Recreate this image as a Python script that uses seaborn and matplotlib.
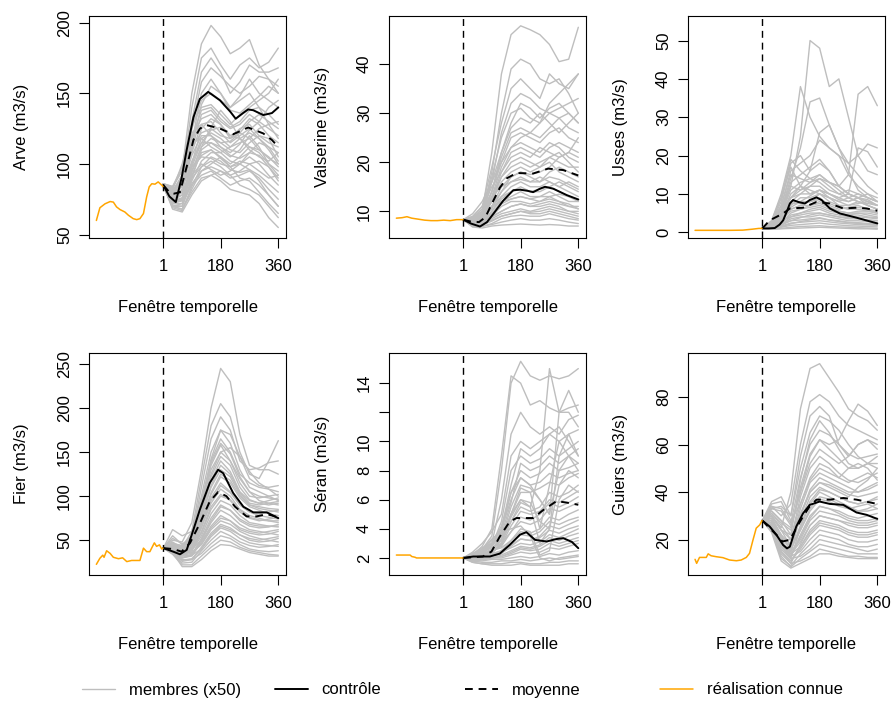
import matplotlib
matplotlib.use("Agg")
import numpy as np
import pandas as pd
import matplotlib.pyplot as plt
import seaborn as sns
from matplotlib.lines import Line2D

# forecast days at which the ensemble members are read
t_members = [1, 30, 60, 90, 120, 150, 180, 210, 240, 270, 300, 330, 360]

# ---------------- Arve ----------------
arve_obs_t = [-208, -197, -181, -165, -155, -145, -134, -119, -108, -93, -82, -72, -61, -51, -43, -35, -25, -15, -4, 0]
arve_obs = [60, 69, 71.8, 73.4, 73, 69.6, 67.7, 66, 63.7, 61.3, 60.6, 61.3, 64.9, 76.7, 83.8, 86, 85.7, 87.3, 85, 84]
arve_ctrl_t = [1, 20, 40, 58, 74, 95, 115, 141, 178, 210, 227, 250, 266, 282, 313, 340, 360]
arve_ctrl = [85, 77, 73, 90, 110, 133, 146, 151, 145, 137, 132, 136, 138.6, 138, 134.6, 136, 140]
arve_mean_t = [1, 20, 35, 53, 74, 95, 115, 136, 178, 219, 266, 313, 340, 360]
arve_mean = [85, 80, 79, 80, 98, 117, 125, 127.5, 125, 121, 125.8, 121.6, 117, 112]
arve_members = [
    [86, 84, 95, 150, 185, 198, 190, 178, 182, 188, 170, 160, 150],
    [85, 80, 90, 140, 175, 182, 170, 160, 170, 175, 168, 172, 182],
    [86, 82, 88, 130, 165, 175, 165, 150, 158, 170, 165, 165, 168],
    [84, 78, 85, 125, 158, 168, 162, 155, 150, 155, 162, 160, 155],
    [85, 76, 80, 115, 150, 160, 150, 140, 148, 160, 150, 145, 140],
    [85, 80, 92, 125, 145, 150, 145, 140, 145, 150, 140, 128, 118],
    [86, 82, 100, 128, 140, 142, 135, 128, 135, 140, 145, 150, 160],
    [85, 75, 82, 110, 135, 138, 130, 125, 128, 135, 130, 125, 120],
    [84, 72, 75, 100, 125, 132, 128, 118, 122, 130, 135, 130, 125],
    [85, 78, 85, 108, 128, 130, 122, 115, 120, 125, 118, 110, 100],
    [86, 80, 90, 112, 122, 125, 120, 118, 125, 128, 120, 115, 112],
    [85, 74, 78, 100, 118, 122, 118, 112, 115, 118, 125, 128, 130],
    [84, 70, 72, 95, 112, 118, 115, 110, 108, 115, 120, 118, 105],
    [85, 76, 82, 102, 115, 115, 110, 105, 110, 120, 112, 100, 95],
    [86, 84, 98, 115, 118, 112, 108, 112, 118, 110, 105, 102, 108],
    [85, 72, 74, 92, 108, 110, 105, 100, 105, 112, 110, 105, 98],
    [84, 70, 70, 88, 102, 108, 108, 102, 100, 105, 100, 92, 85],
    [85, 78, 85, 98, 105, 104, 100, 98, 102, 100, 95, 90, 92],
    [86, 74, 76, 90, 98, 102, 98, 92, 95, 100, 102, 98, 88],
    [85, 70, 68, 82, 95, 98, 95, 90, 92, 95, 90, 82, 75],
    [84, 72, 72, 85, 92, 95, 90, 85, 88, 90, 85, 78, 70],
    [85, 68, 66, 78, 88, 92, 95, 92, 85, 82, 78, 70, 62],
    [86, 74, 75, 86, 95, 100, 105, 98, 90, 88, 80, 72, 65],
    [85, 70, 68, 80, 90, 92, 88, 82, 80, 78, 72, 62, 55],
    [84, 76, 78, 92, 100, 96, 92, 95, 100, 96, 88, 78, 70],
    [85, 79, 88, 118, 138, 140, 132, 126, 130, 138, 140, 135, 128],
    [86, 81, 92, 120, 132, 135, 128, 120, 124, 132, 128, 120, 115],
    [84, 73, 76, 98, 115, 124, 126, 120, 118, 122, 118, 112, 108],
    [85, 77, 84, 106, 120, 120, 112, 108, 114, 124, 130, 140, 145],
    [86, 83, 96, 122, 128, 120, 115, 116, 122, 118, 110, 104, 100],
    [85, 71, 70, 90, 110, 115, 112, 106, 104, 108, 106, 98, 90],
    [84, 75, 80, 96, 106, 110, 104, 98, 100, 108, 115, 112, 102],
    [85, 69, 67, 84, 98, 105, 102, 96, 94, 96, 92, 86, 80],
    [86, 79, 87, 112, 142, 155, 150, 138, 136, 142, 148, 155, 150],
    [85, 73, 74, 94, 112, 126, 138, 130, 118, 112, 108, 100, 92],
]

# ---------------- Valserine ----------------
vals_obs_t = [-208, -190, -175, -160, -140, -120, -100, -80, -60, -40, -20, 0]
vals_obs = [8.6, 8.7, 8.9, 8.6, 8.4, 8.2, 8.1, 8.1, 8.2, 8.1, 8.3, 8.3]
vals_ctrl_t = [1, 25, 53, 75, 95, 126, 157, 178, 200, 219, 240, 256, 282, 324, 360]
vals_ctrl = [8.3, 7.5, 6.9, 7.8, 9.5, 12.2, 14.3, 14.4, 14.2, 13.9, 14.6, 15.0, 14.6, 13.3, 12.4]
vals_mean_t = [1, 25, 50, 70, 95, 115, 136, 167, 219, 266, 313, 360]
vals_mean = [8.3, 7.9, 7.8, 8.8, 12.2, 14.8, 16.7, 17.8, 17.7, 18.7, 18.4, 17.3]
vals_members = [
    [8.3, 8.5, 10, 22, 38, 46, 47.8, 47, 46, 44, 40.5, 41, 47.5],
    [8.3, 8.0, 9.5, 18, 30, 39, 41, 40, 37, 36, 37, 34, 30],
    [8.3, 9.0, 11, 19, 28, 35, 37, 35, 33, 38, 36, 35, 38],
    [8.3, 7.5, 9, 16, 26, 32, 34, 33, 31, 30, 31, 32, 33],
    [8.3, 8.2, 10, 17, 25, 30, 31, 29, 28, 30, 29, 27, 26],
    [8.3, 8.8, 11, 16, 22, 27, 29, 28, 30, 28, 26, 28, 30],
    [8.3, 7.8, 9, 14, 20, 25, 26, 25, 24, 26, 27, 25, 24],
    [8.3, 7.2, 8.2, 13, 19, 23, 24, 23, 22, 24, 23, 21, 20],
    [8.3, 8.6, 10.5, 15, 18, 21, 22, 21, 23, 22, 21, 22, 25],
    [8.3, 7.5, 8.5, 12, 17, 20, 21, 20, 19, 21, 22, 20, 18],
    [8.3, 8.0, 9, 12, 16, 18, 19, 18, 19, 20, 18, 17, 16],
    [8.3, 7.0, 7.8, 11, 14, 17, 18, 17, 16, 18, 19, 18, 17],
    [8.3, 8.4, 10, 13, 15, 16, 17, 16, 17, 16, 15, 16, 15],
    [8.3, 7.3, 8, 10, 13, 15, 16, 15, 15, 16, 15, 14, 13],
    [8.3, 7.9, 8.8, 11, 13, 14, 15, 14, 14, 15, 16, 15, 14],
    [8.3, 7.1, 7.6, 9.5, 12, 13, 14, 13, 13, 14, 13, 12, 12],
    [8.3, 8.2, 9.5, 11, 12, 12.5, 13, 12.5, 13, 13, 12, 11, 11],
    [8.3, 7.4, 7.8, 9, 11, 12, 12, 11.5, 12, 12.5, 12, 11.5, 10.5],
    [8.3, 7.6, 8.2, 9, 10, 11, 11.5, 11, 11, 11.5, 11, 10, 10],
    [8.3, 7.0, 7.2, 8.5, 9.5, 10, 10.5, 10, 10.5, 11, 10.5, 10, 9.5],
    [8.3, 7.3, 7.5, 8.2, 9, 9.5, 10, 9.5, 9.5, 10, 9.5, 9, 8.5],
    [8.3, 6.9, 6.9, 7.5, 8.5, 9, 9.2, 9, 9, 9.5, 9, 8.5, 8.2],
    [8.3, 7.2, 7.0, 7.3, 7.8, 8.2, 8.5, 8.2, 8.2, 8.5, 8.2, 7.8, 7.5],
    [8.3, 6.8, 6.6, 7.0, 7.2, 7.3, 7.4, 7.3, 7.2, 7.3, 7.2, 7.0, 7.0],
    [8.3, 9.5, 12, 16, 20, 23, 25, 26, 28, 32, 34, 36, 38],
    [8.3, 7.7, 8.6, 12.5, 18, 22, 23, 22, 21, 23, 24, 23, 22],
    [8.3, 8.1, 9.2, 13, 17, 19, 20, 19, 20, 21, 20, 19, 19],
    [8.3, 7.4, 8.1, 11, 15, 17, 18, 17.5, 18, 19, 21, 22, 21],
    [8.3, 7.9, 8.7, 10.5, 14, 16, 16.5, 16, 16, 17, 16.5, 15.5, 14.5],
    [8.3, 7.1, 7.6, 10, 12.5, 14, 14.5, 14, 14.5, 15, 14, 13, 12.5],
    [8.3, 7.5, 8.0, 9.5, 11.5, 12.5, 13, 12.5, 12, 13, 13.5, 13, 12],
    [8.3, 7.2, 7.4, 8.8, 10, 11, 11.5, 11, 11.5, 12, 11.5, 11, 10.5],
    [8.3, 8.6, 10, 14, 21, 26, 27, 26, 25, 27, 29, 30, 28],
    [8.3, 7.0, 7.2, 8, 9, 9.5, 10, 9.8, 10, 10.5, 10, 9.5, 9],
    [8.3, 8.3, 9.5, 14, 22, 28, 32, 31, 29, 31, 32, 30, 28],
]

# ---------------- Usses ----------------
usses_obs_t = [-209, -150, -100, -60, -30, -10, 0]
usses_obs = [0.5, 0.5, 0.5, 0.55, 0.8, 1.0, 1.0]
usses_ctrl_t = [1, 20, 40, 55, 66, 78, 87, 97, 113, 134, 149, 170, 186, 212, 243, 295, 360]
usses_ctrl = [1, 1, 1.1, 2, 3.1, 5.5, 7.5, 8.4, 7.9, 7.5, 8.4, 9.1, 8.4, 6.2, 4.9, 3.8, 2.3]
usses_mean_t = [1, 24, 66, 87, 128, 170, 212, 254, 295, 327, 360]
usses_mean = [1, 3.1, 4.9, 6.2, 6.4, 7.9, 7.5, 6.2, 6.4, 6.2, 5.6]
usses_members = [
    [1, 2, 5, 12, 25, 50, 48, 38, 40, 30, 20, 16, 15],
    [1, 3, 10, 20, 38, 30, 25, 22, 20, 18, 20, 23, 22],
    [1, 2, 6, 14, 22, 34, 35, 28, 22, 18, 15, 12, 10],
    [1, 1.5, 4, 8, 10, 12, 14, 13, 12, 15, 36, 38, 33],
    [1, 2.5, 8, 18, 20, 16, 18, 16, 12, 10, 22, 21, 17],
    [1, 2, 7, 16, 18, 20, 24, 22, 20, 15, 12, 10, 8],
    [1, 3, 9, 19, 16, 14, 15, 13, 12, 10, 9, 8, 7],
    [1, 2, 6, 13, 15, 17, 19, 16, 12, 10, 9, 8, 7],
    [1, 1.5, 5, 11, 13, 14, 13, 11, 10, 11, 10, 9, 8],
    [1, 2, 6, 12, 11, 12, 12, 10, 9, 10, 9, 7, 6],
    [1, 1.8, 4.5, 10, 12, 11, 10, 9, 8, 9, 10, 9, 8],
    [1, 2.2, 6, 9, 10, 10, 11, 9, 7, 7, 8, 7, 6],
    [1, 1.5, 3.5, 7, 9, 9, 10, 8, 7, 6, 6, 5.5, 5],
    [1, 2, 5, 8, 8, 8, 9, 7, 6, 6.5, 7, 6, 5],
    [1, 1.3, 3, 6, 7, 7, 8, 6.5, 5.5, 5, 5, 4.5, 4],
    [1, 1.5, 3.5, 5.5, 6, 6.5, 7, 6, 5, 4.5, 5, 5, 4.5],
    [1, 1.2, 2.5, 4.5, 5, 5.5, 6, 5, 4.5, 4, 4, 3.8, 3.5],
    [1, 1.4, 3, 4, 4.5, 5, 5, 4.5, 4, 3.5, 3.5, 3.2, 3],
    [1, 1.1, 2, 3.5, 4, 4, 4.5, 4, 3.5, 3, 3, 2.8, 2.5],
    [1, 1.2, 2.2, 3, 3.2, 3.5, 3.8, 3.2, 3, 2.6, 2.5, 2.3, 2.2],
    [1, 1.0, 1.6, 2.4, 2.6, 2.8, 3, 2.7, 2.4, 2.2, 2, 1.9, 1.8],
    [1, 0.9, 1.3, 1.8, 2, 2.2, 2.4, 2.1, 1.9, 1.7, 1.6, 1.5, 1.4],
    [1, 0.8, 1.0, 1.3, 1.5, 1.6, 1.7, 1.5, 1.4, 1.3, 1.2, 1.1, 1.0],
    [1, 0.8, 0.9, 1.0, 1.1, 1.2, 1.3, 1.2, 1.1, 1.0, 0.9, 0.9, 0.8],
    [1, 2, 5, 9, 12, 16, 26, 28, 22, 16, 11, 9, 8],
    [1, 2.5, 7, 15, 14, 13, 14, 12, 10, 9, 8, 7.5, 7],
    [1, 1.6, 4, 9, 11, 13, 15, 13, 11, 9, 8, 7, 6],
    [1, 1.3, 3, 6.5, 8, 9.5, 11, 10, 8.5, 8, 9, 8.5, 7],
    [1, 1.8, 4.5, 7.5, 7.5, 8, 8.5, 7.5, 6.5, 6, 6.5, 6, 5.5],
    [1, 1.2, 2.5, 5, 6, 7, 7.5, 6.5, 5.5, 5, 5.5, 5.5, 5],
    [1, 1.1, 2, 4, 5, 6, 6.5, 5.5, 5, 4.5, 4.5, 4, 3.8],
    [1, 1.0, 1.8, 3, 3.8, 4.5, 5, 4.5, 4, 3.8, 3.5, 3.2, 3],
    [1, 1.5, 3.5, 6, 7, 8, 10, 9, 8, 7, 7.5, 8, 7],
    [1, 0.9, 1.4, 2.2, 2.8, 3.2, 3.6, 3.2, 2.8, 2.5, 2.3, 2.1, 2],
    [1, 2.8, 9, 17, 12, 10, 11, 10, 9, 8, 9, 10, 9],
]

# ---------------- Fier ----------------
fier_obs_t = [-208, -197, -188, -184, -176, -165, -155, -139, -126, -113, -98, -72, -61, -51, -41, -27, -20, -11, -4, 0]
fier_obs = [22.6, 29.5, 33, 30.6, 38, 35, 30.6, 29, 30, 25.7, 27, 27, 41, 37, 37, 47, 43, 44.7, 40, 41]
fier_ctrl_t = [1, 32, 53, 74, 95, 115, 146, 172, 188, 219, 251, 282, 324, 360]
fier_ctrl = [41, 37, 34, 39, 62, 84.6, 115, 130, 126, 103.6, 88, 81.6, 81.6, 75]
fier_mean_t = [1, 32, 58, 84, 115, 146, 172, 198, 225, 261, 292, 324, 360]
fier_mean = [41, 40, 37, 46.6, 69, 94, 104.7, 100, 88, 77, 77, 79.6, 76]
fier_members = [
    [41, 50, 48, 70, 130, 200, 245, 230, 170, 135, 130, 130, 125],
    [41, 45, 42, 60, 120, 180, 205, 190, 150, 125, 120, 140, 163],
    [41, 55, 45, 55, 110, 165, 190, 175, 140, 130, 132, 138, 140],
    [41, 62, 55, 60, 100, 150, 175, 160, 130, 110, 105, 100, 95],
    [41, 48, 40, 55, 95, 140, 165, 150, 125, 115, 110, 108, 105],
    [41, 44, 38, 50, 90, 135, 158, 140, 115, 100, 98, 100, 102],
    [41, 46, 42, 50, 85, 125, 150, 140, 120, 105, 95, 92, 90],
    [41, 40, 35, 45, 80, 118, 140, 128, 105, 95, 92, 95, 98],
    [41, 52, 46, 50, 78, 110, 130, 122, 102, 90, 88, 86, 85],
    [41, 43, 38, 42, 70, 102, 122, 115, 98, 88, 84, 80, 78],
    [41, 38, 32, 40, 68, 98, 115, 105, 90, 82, 80, 82, 84],
    [41, 45, 40, 45, 65, 92, 108, 100, 85, 78, 75, 72, 70],
    [41, 40, 34, 38, 60, 88, 102, 95, 82, 75, 72, 74, 76],
    [41, 42, 36, 38, 55, 80, 95, 90, 78, 70, 68, 66, 65],
    [41, 37, 30, 34, 52, 75, 90, 84, 72, 66, 64, 65, 68],
    [41, 44, 38, 40, 50, 70, 84, 78, 68, 62, 60, 58, 56],
    [41, 39, 30, 32, 48, 66, 78, 72, 62, 58, 56, 57, 60],
    [41, 42, 35, 36, 45, 62, 72, 68, 60, 55, 52, 50, 48],
    [41, 36, 26, 28, 42, 58, 68, 64, 56, 50, 48, 49, 52],
    [41, 40, 32, 33, 40, 54, 64, 60, 52, 47, 45, 44, 43],
    [41, 35, 24, 25, 38, 50, 60, 55, 48, 44, 42, 43, 45],
    [41, 38, 28, 28, 35, 46, 55, 52, 45, 40, 38, 37, 38],
    [41, 34, 22, 22, 32, 42, 50, 48, 42, 38, 36, 34, 33],
    [41, 36, 20, 20, 28, 38, 45, 44, 40, 36, 34, 32, 32],
    [41, 46, 44, 52, 90, 130, 150, 155, 145, 128, 115, 108, 100],
    [41, 47, 43, 52, 92, 138, 160, 148, 122, 105, 100, 98, 96],
    [41, 43, 37, 46, 82, 122, 145, 135, 110, 96, 92, 90, 92],
    [41, 41, 35, 42, 75, 112, 135, 125, 104, 92, 90, 92, 94],
    [41, 45, 39, 44, 72, 104, 125, 118, 100, 90, 86, 84, 82],
    [41, 39, 33, 38, 64, 95, 112, 104, 90, 82, 78, 76, 74],
    [41, 42, 36, 40, 58, 85, 100, 96, 84, 76, 73, 72, 72],
    [41, 38, 30, 33, 50, 72, 88, 84, 74, 68, 66, 66, 66],
    [41, 40, 33, 35, 46, 64, 75, 72, 64, 60, 58, 60, 62],
    [41, 36, 27, 29, 40, 56, 66, 62, 56, 52, 50, 52, 54],
    [41, 44, 40, 48, 88, 142, 175, 170, 145, 120, 112, 110, 112],
]

# ---------------- Séran ----------------
seran_obs_t = [-208, -165, -160, -150, -145, 0]
seran_obs = [2.2, 2.2, 2.1, 2.05, 2.0, 2.0]
seran_ctrl_t = [1, 32, 84, 115, 146, 178, 198, 225, 261, 292, 313, 340, 360]
seran_ctrl = [2.0, 2.1, 2.1, 2.3, 2.9, 3.6, 3.77, 3.24, 3.13, 3.3, 3.36, 3.1, 2.67]
seran_mean_t = [1, 62, 89, 115, 146, 167, 219, 251, 292, 324, 360]
seran_mean = [2.0, 2.1, 2.44, 3.47, 4.5, 4.74, 4.74, 5.3, 5.9, 5.8, 5.65]
seran_members = [
    [2, 2.3, 2.6, 3.5, 8, 14, 15.5, 14.5, 14.2, 14.5, 14.3, 14.5, 15],
    [2, 2.2, 2.8, 4, 9, 14.5, 14, 12.5, 12.8, 12.3, 12, 12.3, 12.5],
    [2, 2.1, 2.4, 3, 6, 10.5, 12, 11, 10.5, 11, 10.5, 11.5, 11.8],
    [2, 1.9, 2.2, 2.6, 3.5, 5, 6, 5.5, 8, 15, 12, 12, 11],
    [2, 2.4, 3, 3.8, 5, 9, 10, 9.5, 10, 10.5, 10, 10.5, 10.8],
    [2, 2.0, 2.3, 2.8, 4.5, 8, 9, 8.5, 8.8, 9.5, 9, 9.5, 10],
    [2, 2.2, 2.5, 3.2, 4, 6, 7.5, 7, 6, 5, 12, 13.5, 12],
    [2, 1.9, 2.0, 2.3, 3, 5, 6.5, 6.5, 4, 7, 10, 9, 8],
    [2, 2.1, 2.4, 2.8, 3.8, 6.5, 8, 7.5, 7.8, 8.5, 8, 8.2, 8.5],
    [2, 2.0, 2.2, 2.6, 3.2, 5, 6.8, 6.5, 6.8, 7.2, 7, 7.5, 7.8],
    [2, 1.9, 2.1, 2.4, 3.0, 4.5, 5.8, 5.5, 3, 4, 9, 10.5, 9],
    [2, 2.3, 2.7, 3, 3.5, 4.5, 5.5, 5.2, 5.5, 6.5, 6.2, 6.5, 7],
    [2, 2.0, 2.2, 2.5, 2.8, 3.8, 4.8, 4.6, 5, 5.8, 5.5, 5.8, 6.2],
    [2, 1.9, 2.0, 2.2, 2.5, 3.2, 4, 3.8, 2.2, 2.5, 6, 7, 6.5],
    [2, 2.1, 2.3, 2.5, 2.7, 3.2, 3.8, 3.7, 4, 4.8, 4.6, 5, 5.3],
    [2, 1.9, 2.0, 2.1, 2.3, 2.8, 3.3, 3.2, 3.5, 4.2, 4, 4.3, 4.6],
    [2, 2.0, 2.1, 2.2, 2.4, 2.7, 3, 2.9, 3.1, 3.6, 3.4, 3.7, 4],
    [2, 1.8, 1.9, 2.0, 2.1, 2.4, 2.7, 2.6, 2.8, 3.2, 3, 3.2, 3.4],
    [2, 1.9, 1.9, 2.0, 2.0, 2.2, 2.4, 2.3, 2.4, 2.7, 2.6, 2.8, 3.0],
    [2, 1.8, 1.8, 1.9, 1.9, 2.0, 2.1, 2.0, 2.1, 2.3, 2.2, 2.4, 2.5],
    [2, 1.8, 1.7, 1.7, 1.8, 1.8, 1.9, 1.8, 1.9, 2.0, 1.9, 2.0, 2.1],
    [2, 1.7, 1.6, 1.6, 1.6, 1.7, 1.7, 1.6, 1.6, 1.7, 1.7, 1.8, 1.8],
    [2, 1.7, 1.6, 1.5, 1.5, 1.5, 1.6, 1.5, 1.5, 1.5, 1.5, 1.6, 1.6],
    [2, 2.2, 2.6, 3.3, 3.8, 4, 4.2, 3.5, 2, 1.8, 2, 2.1, 2.2],
    [2, 2.0, 2.3, 2.9, 4, 7, 9.5, 9, 9.5, 10.5, 11, 10, 9],
    [2, 2.1, 2.5, 3, 4.2, 6.5, 7.5, 7, 7.2, 7.8, 7.5, 7.8, 8],
    [2, 2.0, 2.2, 2.6, 3.3, 5.5, 7, 6.8, 6, 5, 8, 9, 8.5],
    [2, 1.9, 2.1, 2.4, 2.9, 4.2, 5.2, 5, 5.2, 6, 5.8, 6.2, 6.6],
    [2, 2.2, 2.4, 2.7, 3, 3.8, 4.5, 4.3, 4.6, 5.4, 5.2, 5.5, 5.8],
    [2, 1.9, 2.0, 2.2, 2.4, 3, 3.6, 3.5, 3.8, 4.5, 4.3, 4.6, 4.8],
    [2, 2.0, 2.1, 2.3, 2.5, 2.9, 3.3, 3.2, 3.4, 3.9, 3.7, 4, 4.2],
    [2, 1.8, 1.9, 2.0, 2.2, 2.5, 2.8, 2.7, 2.9, 3.4, 3.2, 3.5, 3.7],
    [2, 2.1, 2.3, 2.8, 3.6, 5.8, 8.5, 8, 8.3, 9, 8.5, 9, 9.5],
    [2, 1.9, 1.9, 2.0, 2.1, 2.3, 2.6, 2.5, 2.6, 3, 2.8, 3, 3.2],
    [2, 2.0, 2.2, 2.5, 3.2, 4.8, 6, 5.8, 4.5, 4, 7, 8, 7.5],
]

# ---------------- Guiers ----------------
guiers_obs_t = [-209, -204, -195, -185, -174, -168, -159, -143, -122, -101, -80, -65, -49, -39, -28, -18, -7, 0]
guiers_obs = [11.7, 10, 12.5, 12.5, 12.5, 14, 13.2, 12.8, 12.4, 11.4, 11.1, 11.4, 12.5, 14.2, 19.9, 24.8, 26.2, 28]
guiers_ctrl_t = [1, 24, 45, 66, 78, 87, 107, 128, 149, 180, 212, 254, 295, 327, 360]
guiers_ctrl = [28, 25.5, 22, 17.7, 16.3, 17, 25.5, 31, 34.6, 36, 35, 34.6, 31.4, 30.4, 28.7]
guiers_mean_t = [1, 24, 45, 64, 87, 107, 128, 149, 170, 212, 254, 295, 360]
guiers_mean = [28, 24.8, 22, 19.2, 19.9, 24.8, 29.7, 34, 36.8, 36.8, 37.5, 36.8, 35]
guiers_members = [
    [28, 30, 25, 40, 75, 92, 94, 88, 82, 75, 72, 70, 66],
    [28, 34, 30, 35, 60, 78, 81, 78, 72, 68, 66, 64, 62],
    [28, 36, 38, 30, 55, 72, 76, 72, 60, 55, 60, 62, 58],
    [28, 32, 28, 25, 40, 55, 62, 60, 62, 70, 77, 74, 68],
    [28, 30, 24, 22, 45, 62, 70, 65, 58, 52, 50, 52, 55],
    [28, 33, 32, 26, 40, 52, 58, 55, 52, 55, 60, 62, 60],
    [28, 28, 20, 20, 38, 50, 55, 52, 48, 45, 44, 46, 48],
    [28, 35, 36, 28, 35, 45, 50, 48, 46, 50, 52, 50, 45],
    [28, 29, 22, 18, 33, 44, 48, 46, 44, 42, 40, 41, 43],
    [28, 27, 18, 15, 30, 40, 44, 42, 40, 38, 42, 45, 50],
    [28, 31, 26, 20, 28, 38, 42, 40, 38, 36, 35, 36, 38],
    [28, 26, 16, 12, 25, 35, 40, 38, 36, 34, 32, 33, 35],
    [28, 30, 24, 17, 24, 32, 37, 36, 34, 33, 34, 35, 33],
    [28, 27, 19, 13, 22, 30, 34, 33, 32, 30, 29, 30, 31],
    [28, 29, 22, 15, 20, 28, 32, 31, 30, 28, 27, 27, 28],
    [28, 25, 14, 10, 18, 26, 30, 29, 28, 26, 25, 25, 26],
    [28, 28, 20, 14, 17, 24, 28, 27, 26, 24, 23, 23, 24],
    [28, 26, 15, 11, 16, 22, 26, 25, 24, 22, 21, 21, 22],
    [28, 27, 18, 13, 15, 20, 24, 23, 22, 20, 19, 19, 20],
    [28, 24, 12, 9, 14, 18, 22, 21, 20, 18, 17, 17, 18],
    [28, 26, 17, 12, 13, 16, 20, 19, 18, 17, 16, 15, 16],
    [28, 24, 13, 8.5, 12, 15, 18, 17, 16, 15, 14, 14, 14],
    [28, 25, 15, 10, 11, 13, 16, 15, 14, 13, 13, 12.5, 12.5],
    [28, 23, 11, 8, 10, 12, 14, 14, 13, 12.5, 12, 12, 12],
    [28, 33, 34, 30, 50, 65, 72, 70, 66, 60, 55, 52, 50],
    [28, 31, 27, 24, 42, 56, 62, 58, 54, 50, 50, 52, 52],
    [28, 30, 24, 20, 35, 46, 52, 50, 46, 44, 46, 48, 46],
    [28, 28, 21, 17, 30, 41, 46, 44, 42, 40, 40, 42, 44],
    [28, 32, 28, 22, 31, 40, 44, 43, 41, 39, 38, 39, 40],
    [28, 27, 19, 15, 26, 36, 41, 40, 38, 36, 35, 36, 37],
    [28, 29, 21, 16, 24, 33, 38, 37, 35, 33, 32, 32, 33],
    [28, 26, 17, 13, 21, 29, 34, 33, 31, 29, 28, 28, 29],
    [28, 28, 19, 14, 19, 26, 30, 29, 28, 27, 26, 26, 27],
    [28, 25, 15, 11, 17, 23, 27, 26, 25, 23, 22, 22, 23],
    [28, 34, 33, 27, 46, 60, 66, 64, 60, 56, 54, 55, 56],
]

panels = [
    ("Arve (m3/s)", arve_obs_t, arve_obs, arve_ctrl_t, arve_ctrl, arve_mean_t, arve_mean, arve_members,
     [50, 100, 150, 200], None, (47.6, 204.7)),
    ("Valserine (m3/s)", vals_obs_t, vals_obs, vals_ctrl_t, vals_ctrl, vals_mean_t, vals_mean, vals_members,
     [10, 20, 30, 40], None, (4.56, 49.8)),
    ("Usses (m3/s)", usses_obs_t, usses_obs, usses_ctrl_t, usses_ctrl, usses_mean_t, usses_mean, usses_members,
     [0, 10, 20, 30, 40, 50], None, (-1.5, 56.4)),
    ("Fier (m3/s)", fier_obs_t, fier_obs, fier_ctrl_t, fier_ctrl, fier_mean_t, fier_mean, fier_members,
     [50, 100, 150, 200, 250], None, (10.5, 262.5)),
    ("Séran (m3/s)", seran_obs_t, seran_obs, seran_ctrl_t, seran_ctrl, seran_mean_t, seran_mean, seran_members,
     [2, 4, 6, 8, 10, 12, 14], ["2", "4", "6", "8", "10", "", "14"], (0.83, 16.07)),
    ("Guiers (m3/s)", guiers_obs_t, guiers_obs, guiers_ctrl_t, guiers_ctrl, guiers_mean_t, guiers_mean, guiers_members,
     [20, 40, 60, 80], None, (5.1, 98.5)),
]

GREY = "#bebebe"
ORANGE = "#ffa500"
DASH = (0, (4, 3))

sns.set_style("ticks")
plt.rcParams["font.family"] = ["Liberation Sans", "DejaVu Sans"]
plt.rcParams["font.size"] = 12
for k in ["text.color", "axes.labelcolor", "xtick.color", "ytick.color", "axes.edgecolor"]:
    plt.rcParams[k] = "black"

W, H = 893, 702
fig = plt.figure(figsize=(W / 100, H / 100), dpi=100)

lefts = [89, 389, 688]
tops = [16, 353]
bw, bh = 197, 222

for i, (ylab, obs_t, obs, ctrl_t, ctrl, mean_t, mean, members, yt, ytl, ylim) in enumerate(panels):
    r, c = divmod(i, 3)
    ax = fig.add_axes([lefts[c] / W, 1 - (tops[r] + bh) / H, bw / W, bh / H])

    df = pd.DataFrame(members, columns=t_members).rename_axis("member").reset_index()
    df = df.melt(id_vars="member", var_name="t", value_name="q")
    df["t"] = df["t"].astype(float)
    sns.lineplot(data=df, x="t", y="q", units="member", estimator=None,
                 color=GREY, lw=1.0, ax=ax)
    sns.lineplot(x=ctrl_t, y=ctrl, color="black", lw=1.4, ax=ax)
    sns.lineplot(x=mean_t, y=mean, color="black", lw=1.4, linestyle=DASH, ax=ax)
    ax.axvline(1, color="black", lw=1.0, linestyle=(0, (5, 3.5)))
    sns.lineplot(x=obs_t, y=obs, color=ORANGE, lw=1.1, ax=ax)

    ax.set_xlim(-231, 384)
    ax.set_ylim(*ylim)
    ax.set_xticks([1, 180, 360])
    ax.set_yticks(yt)
    if ytl is not None:
        ax.set_yticklabels(ytl)
    for lab in ax.get_yticklabels():
        lab.set_rotation(90)
        lab.set_va("center")
    ax.tick_params(length=7.2, width=0.8, color="black", labelsize=12)
    ax.tick_params(axis="x", pad=8)
    ax.tick_params(axis="y", pad=5)
    for s in ax.spines.values():
        s.set_linewidth(0.8)
        s.set_color("black")

    ax.set_xlabel("Fenêtre temporelle", fontsize=12)
    ax.set_ylabel(ylab, fontsize=12)
    ax.xaxis.set_label_coords(0.5, -69 / bh)
    ax.xaxis.label.set_va("center")
    ax.yaxis.set_label_coords(-67 / bw, 0.5)
    ax.yaxis.label.set_va("center")

legend_items = [
    (Line2D([], [], color=GREY, lw=1.0), "membres (x50)", 82),
    (Line2D([], [], color="black", lw=1.4), "contrôle", 275),
    (Line2D([], [], color="black", lw=1.4, linestyle=DASH), "moyenne", 465),
    (Line2D([], [], color=ORANGE, lw=1.1), "réalisation connue", 660),
]
for h, lab, x0 in legend_items:
    fig.legend([h], [lab], loc="center left", bbox_to_anchor=(x0 / W, 1 - 690 / H),
               frameon=False, handlelength=2.0, handletextpad=0.8,
               borderpad=0, borderaxespad=0, fontsize=12)

fig.savefig("out.png", dpi=100)
